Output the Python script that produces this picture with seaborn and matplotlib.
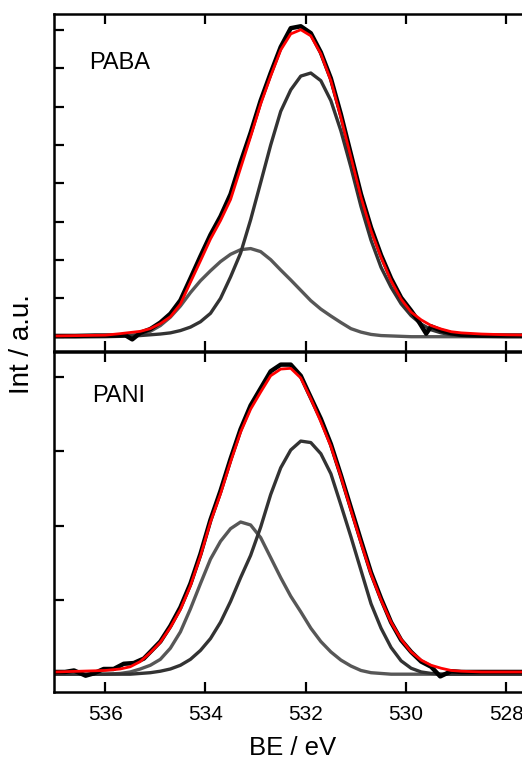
import matplotlib
matplotlib.use("Agg")
import matplotlib.pyplot as plt
import seaborn as sns

# ---------------- data ----------------
BE_FIT = [537.0, 536.5, 536.0, 535.7, 535.5, 535.3, 535.1, 534.9, 534.7, 534.5,
          534.3, 534.1, 533.9, 533.7, 533.5, 533.3, 533.1, 532.9, 532.7, 532.5,
          532.3, 532.1, 531.9, 531.7, 531.5, 531.3, 531.1, 530.9, 530.7, 530.5,
          530.3, 530.1, 529.9, 529.7, 529.5, 529.3, 529.1, 528.9, 528.5, 528.0, 527.4]

# PABA
paba_env = [0.02, 0.03, 0.04, 0.08, 0.11, 0.14, 0.21, 0.34, 0.52, 0.85,
            1.42, 1.98, 2.55, 3.03, 3.58, 4.40, 5.22, 6.07, 6.80, 7.48,
            7.90, 8.01, 7.85, 7.38, 6.68, 5.72, 4.68, 3.64, 2.77, 2.07,
            1.46, 0.98, 0.64, 0.44, 0.29, 0.20, 0.13, 0.10, 0.07, 0.05, 0.04]
paba_c1 = [0.00, 0.00, 0.00, 0.01, 0.02, 0.03, 0.05, 0.07, 0.10, 0.16,
           0.25, 0.39, 0.61, 1.00, 1.56, 2.18, 3.05, 4.02, 5.00, 5.88,
           6.44, 6.80, 6.88, 6.68, 6.16, 5.37, 4.42, 3.40, 2.52, 1.81,
           1.29, 0.86, 0.55, 0.33, 0.18, 0.10, 0.05, 0.03, 0.01, 0.00, 0.00]
paba_c2 = [0.00, 0.00, 0.01, 0.02, 0.04, 0.07, 0.14, 0.29, 0.51, 0.80,
           1.15, 1.46, 1.72, 1.96, 2.15, 2.27, 2.30, 2.22, 2.01, 1.74,
           1.48, 1.21, 0.94, 0.72, 0.54, 0.37, 0.21, 0.12, 0.06, 0.03,
           0.02, 0.01, 0.00, 0.00, 0.00, 0.00, 0.00, 0.00, 0.00, 0.00, 0.00]
paba_be = [537.0, 536.6, 536.2, 535.8, 535.6, 535.46, 535.3, 535.1, 534.9, 534.7,
           534.5, 534.3, 534.1, 533.9, 533.7, 533.5, 533.3, 533.1, 532.9, 532.7,
           532.5, 532.3, 532.1, 531.9, 531.7, 531.5, 531.3, 531.1, 530.9, 530.7,
           530.5, 530.3, 530.1, 529.9, 529.76, 529.6, 529.5, 529.3, 529.1, 528.9,
           528.5, 528.0, 527.4]
paba_raw = [0.02, 0.02, 0.03, 0.03, 0.04, -0.07, 0.10, 0.20, 0.37, 0.60,
            0.95, 1.52, 2.10, 2.66, 3.14, 3.72, 4.55, 5.32, 6.16, 6.88,
            7.56, 8.05, 8.10, 7.92, 7.42, 6.74, 5.80, 4.76, 3.72, 2.85,
            2.13, 1.52, 1.02, 0.68, 0.42, 0.08, 0.27, 0.16, 0.09, 0.05,
            0.03, 0.03, 0.03]

# PANI
pani_env = [0.03, 0.04, 0.05, 0.07, 0.10, 0.17, 0.29, 0.43, 0.63, 0.87,
            1.19, 1.59, 2.05, 2.43, 2.86, 3.26, 3.57, 3.80, 4.02, 4.11,
            4.12, 3.99, 3.71, 3.40, 3.07, 2.66, 2.21, 1.77, 1.35, 1.00,
            0.70, 0.47, 0.30, 0.19, 0.12, 0.08, 0.05, 0.04, 0.03, 0.03, 0.03]
pani_c1 = [0.00, 0.00, 0.00, 0.00, 0.00, 0.01, 0.02, 0.04, 0.07, 0.12,
           0.20, 0.32, 0.48, 0.70, 0.98, 1.30, 1.60, 1.98, 2.42, 2.78,
           3.02, 3.14, 3.12, 2.97, 2.70, 2.28, 1.85, 1.40, 0.95, 0.62,
           0.36, 0.18, 0.08, 0.03, 0.01, 0.00, 0.00, 0.00, 0.00, 0.00, 0.00]
pani_c2 = [0.00, 0.00, 0.00, 0.01, 0.03, 0.07, 0.12, 0.20, 0.35, 0.57,
           0.88, 1.22, 1.55, 1.79, 1.96, 2.05, 2.01, 1.84, 1.57, 1.30,
           1.05, 0.84, 0.62, 0.44, 0.30, 0.19, 0.11, 0.05, 0.02, 0.01,
           0.00, 0.00, 0.00, 0.00, 0.00, 0.00, 0.00, 0.00, 0.00, 0.00, 0.00]
pani_be = [537.0, 536.8, 536.62, 536.39, 536.23, 536.03, 535.83, 535.63, 535.43, 535.23,
           535.1, 534.9, 534.7, 534.5, 534.3, 534.1, 533.9, 533.7, 533.5, 533.3,
           533.1, 532.9, 532.7, 532.5, 532.3, 532.1, 531.95, 531.7, 531.5, 531.3,
           531.1, 530.9, 530.7, 530.5, 530.3, 530.1, 529.9, 529.7, 529.5, 529.32,
           529.1, 528.9, 528.5, 528.0, 527.4]
pani_raw = [0.03, 0.03, 0.05, -0.02, 0.01, 0.07, 0.07, 0.14, 0.15, 0.21,
            0.30, 0.44, 0.65, 0.90, 1.22, 1.62, 2.08, 2.47, 2.90, 3.30,
            3.62, 3.85, 4.08, 4.17, 4.17, 4.02, 3.80, 3.44, 3.10, 2.68,
            2.24, 1.80, 1.37, 1.02, 0.70, 0.46, 0.30, 0.17, 0.10, -0.03,
            0.04, 0.03, 0.03, 0.03, 0.03]

x_ticks = [536, 534, 532, 530, 528]
x_ticklabels = ["536", "534", "532", "530", "528"]
labels = ["PABA", "PANI"]

# ---------------- style ----------------
sns.set_style("ticks")
plt.rcParams["font.family"] = ["Liberation Sans", "DejaVu Sans"]
plt.rcParams.update({
    "axes.linewidth": 1.8,
    "axes.edgecolor": "black",
    "text.color": "black",
    "axes.labelcolor": "black",
    "xtick.color": "black",
    "ytick.color": "black",
    "lines.solid_joinstyle": "round",
    "lines.solid_capstyle": "round",
})

W, H = 522, 762
fig = plt.figure(figsize=(W / 100, H / 100), dpi=100)

def px_axes(left, top, right, bottom):
    return fig.add_axes([left / W, 1 - bottom / H, (right - left) / W, (bottom - top) / H])

ax_top = px_axes(54, 14, 532, 351)
ax_bot = px_axes(54, 352, 532, 692.3)

C_BIG = "#333333"
C_SMALL = "#575757"

panels = [
    (ax_top, paba_c1, paba_c2, paba_be, paba_raw, paba_env, (-0.373, 8.42), range(0, 9), labels[0], (536.31, 6.98)),
    (ax_bot, pani_c1, pani_c2, pani_be, pani_raw, pani_env, (-0.244, 4.34), range(0, 5), labels[1], (536.25, 3.67)),
]

for ax, c1, c2, be_raw, raw, env, ylim, yt, lab, lpos in panels:
    sns.lineplot(x=BE_FIT, y=c2, ax=ax, color=C_SMALL, lw=2.4, sort=False, estimator=None)
    sns.lineplot(x=BE_FIT, y=c1, ax=ax, color=C_BIG, lw=2.4, sort=False, estimator=None)
    sns.lineplot(x=be_raw, y=raw, ax=ax, color="black", lw=3.2, sort=False, estimator=None)
    sns.lineplot(x=BE_FIT, y=env, ax=ax, color="#ff0000", lw=2.0, sort=False, estimator=None)
    ax.set_xlim(537.02, 527.49)
    ax.set_ylim(*ylim)
    ax.set_yticks(list(yt))
    ax.set_yticklabels([])
    ax.set_xticks(x_ticks)
    ax.set_xlabel("")
    ax.set_ylabel("")
    ax.spines["right"].set_visible(False)
    for s in ("left", "top", "bottom"):
        ax.spines[s].set_color("black")
    ax.tick_params(axis="both", which="both", direction="in", length=7, width=1.6,
                   top=True, bottom=True, left=True, right=False, colors="black")
    ax.text(lpos[0], lpos[1], lab, fontsize=17, ha="left", va="baseline", color="black")

ax_top.set_xticklabels([])
ax_bot.set_xticklabels(x_ticklabels, fontsize=15)
ax_bot.tick_params(axis="x", pad=9)

fig.text(293 / W, 1 - 755 / H, "BE / eV", fontsize=18.5, ha="center", va="baseline")
fig.text(22 / W, 1 - 344 / H, "Int / a.u.", fontsize=20, ha="center", va="center", rotation=90)

fig.savefig("out.png", dpi=100)
